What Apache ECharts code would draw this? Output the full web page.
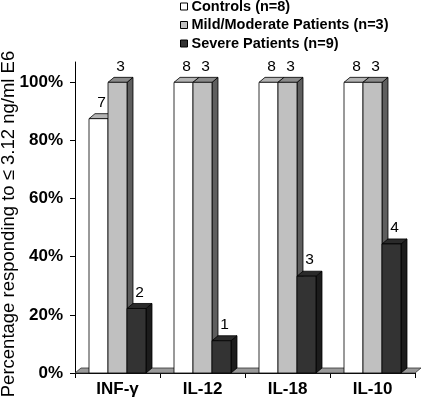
<!DOCTYPE html>
<html>
<head>
<meta charset="utf-8">
<script src="https://cdn.jsdelivr.net/npm/echarts@6/dist/echarts.min.js"></script>
<style>html,body{margin:0;padding:0;background:#fff}#c{width:423px;height:402px}</style>
</head>
<body>
<div id="c"></div>
<script>
const categories = ['INF-γ', 'IL-12', 'IL-18', 'IL-10'];
const seriesNames = ['Controls (n=8)', 'Mild/Moderate Patients (n=3)', 'Severe Patients (n=9)'];
const controlsPct = [87.5, 100, 100, 100];
const mildPct = [100, 100, 100, 100];
const severePct = [22.2, 11.1, 33.3, 44.4];
const controlsN = [7, 8, 8, 8];
const mildN = [3, 3, 3, 3];
const severeN = [2, 1, 3, 4];
const yTicks = [0, 20, 40, 60, 80, 100];
const yTitle = 'Percentage responding to ≤ 3.12 ng/ml E6';

const FONT = '"Liberation Sans", Arial, sans-serif';
const DX = 6, DY = 5;
const styles = [
  {front: '#ffffff', top: '#b4b4b4', side: '#8c8c8c'},
  {front: '#c0c0c0', top: '#8a8a8a', side: '#5e5e5e'},
  {front: '#333333', top: '#2a2a2a', side: '#1c1c1c'}
];

function makeRender(k) {
  return function (params, api) {
    const ci = api.value(0), v = api.value(1), n = api.value(2);
    const base = api.coord([ci, 0]);
    const top = api.coord([ci, v]);
    const band = api.size([1, 0])[0];
    const bw = band * 0.2235;
    const x0 = base[0] - 1.5 * bw + k * bw;
    const t = top[1], b = base[1];
    const st = styles[k];
    const line = {stroke: '#000', lineWidth: 0.8};
    return {
      type: 'group',
      children: [
        {type: 'polygon', shape: {points: [[x0 + bw, t], [x0 + bw + DX, t - DY], [x0 + bw + DX, b - DY], [x0 + bw, b]]},
          style: Object.assign({fill: st.side}, line)},
        {type: 'polygon', shape: {points: [[x0, t], [x0 + DX, t - DY], [x0 + bw + DX, t - DY], [x0 + bw, t]]},
          style: Object.assign({fill: st.top}, line)},
        {type: 'rect', shape: {x: x0, y: t, width: bw, height: b - t},
          style: Object.assign({fill: st.front}, line)},
        {type: 'text', style: {text: String(n), x: x0 + bw / 2 + DX / 2, y: t - DY - 3,
          align: 'center', verticalAlign: 'bottom', font: '15.5px ' + FONT, fill: '#000'}}
      ]
    };
  };
}

function floorRender(params, api) {
  const cs = params.coordSys;
  const b = cs.y + cs.height;
  const l = cs.x, r = cs.x + cs.width;
  return {
    type: 'polygon',
    shape: {points: [[l, b], [l + DX, b - DY], [r + DX, b - DY], [r, b]]},
    style: {fill: '#9a9a9a', stroke: '#333', lineWidth: 0.8}
  };
}

const pctSets = [controlsPct, mildPct, severePct];
const nSets = [controlsN, mildN, severeN];

const series = [{
  type: 'custom', name: 'floor', renderItem: floorRender, data: [[0, 0]], z: 1, silent: true,
  encode: {x: 0, y: 1}
}];
seriesNames.forEach(function (name, k) {
  series.push({
    type: 'custom', name: name, z: 2 + k,
    renderItem: makeRender(k),
    encode: {x: 0, y: 1},
    itemStyle: {color: styles[k].front, borderColor: '#000', borderWidth: 1},
    data: categories.map(function (c, i) { return [i, pctSets[k][i], nSets[k][i]]; })
  });
});

const chart = echarts.init(document.getElementById('c'));
chart.setOption({
  animation: false,
  backgroundColor: '#fff',
  grid: {left: 75, right: 8, top: 62, bottom: 29},
  legend: {
    orient: 'vertical', left: 180, top: -1, itemGap: 3.5, itemWidth: 7, itemHeight: 7, icon: 'rect',
    padding: [0, 0, 0, 0],
    textStyle: {fontFamily: FONT, fontWeight: 'bold', fontSize: 14.5, color: '#000', padding: [0, 0, 0, -1]},
    data: seriesNames.map(function (n, k) {
      return {name: n, itemStyle: {color: styles[k].front, borderColor: '#000', borderWidth: 1}};
    })
  },
  xAxis: {
    type: 'category', data: categories,
    axisLine: {lineStyle: {color: '#000', width: 1}},
    axisTick: {show: true, length: 5, lineStyle: {color: '#000'}},
    axisLabel: {margin: 8, fontFamily: FONT, fontWeight: 'bold', fontSize: 17, color: '#000'}
  },
  yAxis: {
    type: 'value', min: 0, max: 107,
    axisLine: {show: true, lineStyle: {color: '#000', width: 1}},
    axisTick: {show: true, length: 5, lineStyle: {color: '#000'}, customValues: yTicks},
    splitLine: {show: false},
    axisLabel: {customValues: yTicks, margin: 12, fontFamily: FONT, fontWeight: 'bold', fontSize: 17, color: '#000',
      formatter: function (v) { return v + '%'; }}
  },
  graphic: [{
    type: 'text', x: 9, y: 224, rotation: Math.PI / 2,
    style: {text: yTitle, align: 'center', verticalAlign: 'middle', font: '18.5px ' + FONT, fill: '#000'}
  }],
  series: series
});
</script>
</body>
</html>
